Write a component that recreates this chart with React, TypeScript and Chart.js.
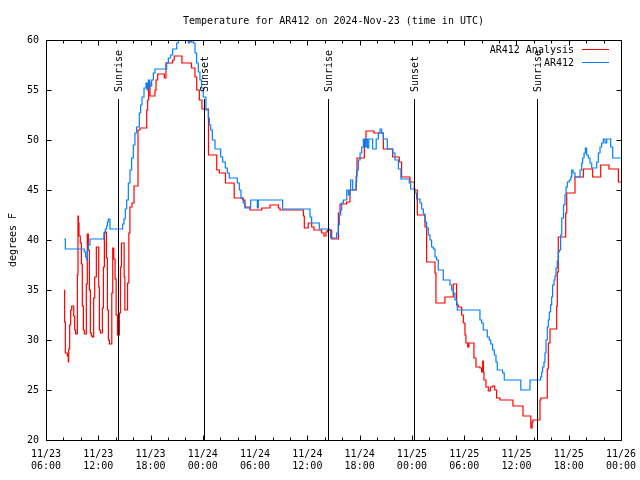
import React, { useEffect, useRef } from 'react';
import { Chart, registerables } from 'chart.js';

Chart.register(...registerables);

const FONT_FAMILY = '"DejaVu Sans Mono", "Liberation Mono", monospace';
const FONT_SIZE = 10;

const TITLE = 'Temperature for AR412 on 2024-Nov-23 (time in UTC)';
const Y_LABEL = 'degrees F';

// hours since 2024-11-23 00:00 UTC
const X_TICK_HOURS = [6, 12, 18, 24, 30, 36, 42, 48, 54, 60, 66, 72];
const X_TICK_DATES = ['11/23', '11/23', '11/23', '11/24', '11/24', '11/24', '11/24', '11/25', '11/25', '11/25', '11/25', '11/26'];
const X_TICK_TIMES = ['06:00', '12:00', '18:00', '00:00', '06:00', '12:00', '18:00', '00:00', '06:00', '12:00', '18:00', '00:00'];
const X_MIN = 6;
const X_MAX = 72;
const Y_MIN = 20;
const Y_MAX = 60;
const Y_STEP = 5;

const SUN_EVENT_HOURS = [14.3, 24.14, 38.4, 48.28, 62.39];
const SUN_EVENT_LABELS = ['Sunrise', 'Sunset', 'Sunrise', 'Sunset', 'Sunrise'];

const SERIES_LABELS = ['AR412 Analysis', 'AR412'];
const SERIES_COLORS = ['#ff0000', '#0080ff'];

const ANALYSIS_HOURS = [
  8.10, 8.14, 8.22, 8.45, 8.56, 8.60, 8.72, 8.83, 8.95, 9.18,
  9.29, 9.40, 9.60, 9.67, 9.72, 9.79, 9.94, 10.06, 10.17, 10.29,
  10.40, 10.63, 10.74, 10.86, 10.98, 11.09, 11.21, 11.32, 11.47, 11.59,
  11.78, 12.05, 12.13, 12.24, 12.47, 12.59, 12.70, 12.93, 13.05, 13.16,
  13.28, 13.55, 13.66, 13.78, 13.93, 14.05, 14.20, 14.43, 14.55, 14.66,
  14.97, 15.05, 15.36, 15.51, 15.63, 15.87, 16.10, 16.56, 16.79, 17.56,
  17.67, 17.78, 17.94, 18.51, 18.63, 18.82, 19.58, 19.77, 20.54, 20.73,
  21.60, 22.70, 23.10, 23.30, 23.60, 23.90, 24.65, 25.60, 25.90, 26.60,
  27.60, 28.58, 28.84, 29.42, 30.76, 31.71, 32.67, 32.86, 35.55, 35.65,
  36.10, 36.50, 36.76, 37.64, 37.91, 38.14, 38.29, 38.79, 39.56, 39.75,
  40.51, 40.89, 41.60, 41.70, 42.54, 42.73, 43.65, 44.72, 45.79, 46.55,
  46.82, 47.78, 48.28, 48.62, 49.50, 49.69, 50.65, 50.76, 51.79, 52.75,
  53.13, 53.32, 53.71, 53.90, 54.09, 54.20, 54.40, 54.55, 55.12, 55.35,
  55.81, 56.00, 56.12, 56.20, 56.27, 56.50, 56.77, 57.00, 57.27, 57.50,
  57.72, 58.11, 59.60, 60.75, 61.65, 61.80, 61.90, 62.70, 62.80, 63.54,
  63.66, 63.85, 64.62, 64.69, 64.80, 65.65, 65.77, 66.72, 67.68, 68.75,
  69.67, 70.62, 71.70, 72.00,
];
const ANALYSIS_TEMPS = [
  35.0, 31.8, 28.7, 28.4, 27.8, 29.1, 31.5, 33.0, 33.4, 32.4,
  31.0, 30.6, 36.5, 42.4, 41.7, 40.4, 39.7, 37.6, 33.4, 31.0,
  30.6, 35.6, 40.6, 39.0, 35.0, 30.7, 30.4, 30.3, 34.2, 36.3,
  39.3, 35.3, 31.0, 30.7, 33.2, 37.3, 40.8, 38.2, 33.0, 30.0,
  29.6, 34.7, 39.2, 38.1, 36.1, 32.5, 30.5, 32.7, 37.3, 39.7,
  36.3, 33.0, 35.7, 40.7, 43.3, 43.7, 45.4, 51.0, 51.2, 53.0,
  54.0, 55.8, 54.4, 55.0, 56.0, 56.6, 56.2, 57.7, 58.0, 58.4,
  57.7, 57.2, 56.3, 55.0, 54.0, 53.1, 48.5, 47.0, 46.7, 45.7,
  44.2, 44.0, 43.3, 43.0, 43.2, 43.5, 43.2, 43.0, 42.4, 41.2,
  41.7, 41.3, 41.0, 40.7, 40.4, 40.8, 41.0, 40.1, 42.7, 43.6,
  43.8, 45.0, 46.4, 48.2, 50.0, 50.9, 50.7, 49.1, 48.3, 47.8,
  46.3, 45.8, 45.0, 42.5, 41.3, 37.8, 36.7, 33.7, 34.3, 35.6,
  33.5, 33.3, 32.5, 31.7, 30.5, 29.7, 29.3, 29.7, 28.2, 27.3,
  27.2, 26.8, 27.9, 26.8, 26.0, 25.3, 24.9, 25.3, 25.4, 25.0,
  24.2, 24.0, 23.4, 22.4, 21.2, 21.8, 22.0, 24.0, 24.2, 27.1,
  29.7, 31.1, 33.4, 36.8, 40.3, 42.7, 44.7, 46.3, 47.1, 46.3,
  47.5, 47.1, 45.8, 45.8,
];

const OBS_HOURS = [
  8.10, 8.22, 10.40, 10.55, 10.67, 10.75, 10.86, 11.05, 12.65, 12.81,
  12.96, 13.05, 13.15, 13.34, 14.80, 14.95, 15.10, 15.26, 15.45, 15.64,
  15.83, 16.02, 16.21, 16.40, 16.71, 16.86, 17.02, 17.25, 17.48, 17.60,
  17.74, 17.90, 18.13, 18.32, 18.51, 19.85, 20.04, 20.31, 20.54, 21.00,
  21.19, 21.57, 22.10, 22.33, 22.45, 22.60, 22.72, 22.91, 23.10, 23.29,
  23.48, 23.67, 23.86, 24.05, 24.36, 24.63, 24.75, 24.90, 25.09, 25.40,
  26.05, 26.28, 26.58, 26.81, 27.04, 27.96, 28.19, 28.38, 28.65, 28.84,
  29.49, 30.26, 30.37, 33.16, 36.30, 36.49, 37.37, 38.52, 38.67, 39.36,
  39.55, 39.67, 39.83, 39.94, 40.13, 40.52, 40.71, 40.90, 40.97, 41.20,
  41.59, 41.66, 41.85, 42.05, 42.24, 42.43, 42.62, 42.75, 42.90, 43.05,
  43.50, 43.90, 44.15, 44.34, 44.53, 44.72, 45.18, 45.80, 46.06, 46.45,
  46.74, 47.70, 47.85, 48.35, 48.54, 48.93, 49.12, 49.31, 49.50, 49.69,
  49.88, 50.07, 50.26, 50.46, 50.65, 50.84, 51.03, 51.60, 52.37, 52.56,
  52.75, 52.94, 53.13, 53.21, 55.81, 56.00, 56.19, 56.65, 56.88, 57.05,
  57.26, 57.46, 57.65, 57.80, 58.41, 58.60, 60.50, 61.55, 62.77, 62.89,
  63.00, 63.16, 63.27, 63.39, 63.54, 63.66, 63.77, 63.92, 64.04, 64.15,
  64.31, 64.42, 64.54, 64.69, 64.80, 64.92, 65.07, 65.20, 65.40, 65.57,
  65.69, 65.84, 66.07, 66.23, 66.34, 66.50, 66.72, 67.30, 67.49, 67.60,
  67.76, 67.91, 68.06, 68.25, 68.44, 68.64, 69.21, 69.40, 69.59, 69.78,
  69.97, 70.17, 70.36, 70.82, 71.05, 72.00,
];
const OBS_TEMPS = [
  40.1, 39.1, 38.8, 38.3, 38.0, 39.0, 39.5, 40.1, 40.7, 41.1,
  41.4, 41.8, 42.1, 41.1, 41.6, 42.1, 43.1, 44.0, 45.7, 47.0,
  48.2, 49.5, 50.7, 51.3, 52.7, 53.5, 54.3, 55.2, 55.7, 55.0,
  56.0, 55.4, 56.0, 56.7, 57.1, 57.7, 58.2, 58.5, 59.1, 59.7,
  60.2, 60.5, 60.3, 59.7, 60.4, 59.8, 60.3, 59.7, 58.7, 57.7,
  56.8, 56.0, 55.2, 54.3, 53.0, 52.2, 51.5, 51.0, 50.0, 49.1,
  48.3, 47.8, 47.2, 46.7, 46.2, 45.7, 45.0, 44.2, 43.7, 43.2,
  44.0, 43.2, 44.0, 43.1, 42.3, 41.7, 41.1, 41.0, 40.2, 40.7,
  41.5, 42.5, 43.0, 43.7, 44.0, 45.0, 44.5, 45.0, 46.0, 45.0,
  45.8, 47.0, 48.0, 48.7, 49.3, 50.1, 49.3, 50.1, 49.2, 50.1,
  49.1, 50.1, 50.7, 51.1, 50.7, 50.1, 49.1, 48.7, 48.0, 47.1,
  46.1, 45.7, 45.1, 44.7, 44.1, 43.7, 43.1, 42.6, 41.8, 41.2,
  40.5, 40.0, 39.3, 39.1, 38.3, 38.0, 37.0, 36.0, 35.5, 35.0,
  34.7, 34.0, 33.7, 33.0, 32.0, 31.7, 31.0, 30.3, 30.0, 29.6,
  29.0, 28.5, 27.8, 27.0, 26.7, 26.0, 25.0, 26.0, 26.3, 26.8,
  27.3, 27.8, 28.7, 30.0, 31.3, 32.0, 32.8, 33.5, 34.3, 35.5,
  36.0, 36.4, 37.2, 37.9, 38.8, 39.0, 40.5, 42.2, 43.5, 44.5,
  45.3, 45.8, 46.0, 46.3, 47.0, 46.7, 46.3, 47.0, 47.7, 48.2,
  48.7, 49.2, 48.5, 48.2, 47.7, 47.2, 47.8, 48.7, 49.3, 49.7,
  50.1, 49.7, 50.1, 49.3, 48.2, 48.2,
];

const toPoints = (xs: number[], ys: number[]) => xs.map((x, i) => ({ x, y: ys[i] }));

const fontStr = `${FONT_SIZE}px ${FONT_FAMILY}`;

const overlayPlugin = {
  id: 'gnuplotOverlay',
  afterDatasetsDraw(chart: any) {
    const { ctx, chartArea: a, scales } = chart;
    const xs = scales.x;
    const ys = scales.y;
    const L = Math.round(a.left) + 0.5;
    const R = Math.round(a.right) + 0.5;
    const T = Math.round(a.top) + 0.5;
    const B = Math.round(a.bottom) + 0.5;
    ctx.save();
    ctx.strokeStyle = '#000';
    ctx.fillStyle = '#000';
    ctx.lineWidth = 1;
    ctx.font = fontStr;

    // sunrise / sunset markers
    SUN_EVENT_HOURS.forEach((h, i) => {
      const x = Math.round(xs.getPixelForValue(h)) + 0.5;
      ctx.beginPath();
      ctx.moveTo(x, a.top + 59);
      ctx.lineTo(x, B);
      ctx.stroke();
      ctx.save();
      ctx.translate(x + 1, a.top + 52);
      ctx.rotate(-Math.PI / 2);
      ctx.textAlign = 'left';
      ctx.textBaseline = 'middle';
      ctx.fillText(SUN_EVENT_LABELS[i], 0, 0);
      ctx.restore();
    });

    // border
    ctx.beginPath();
    ctx.rect(L, T, R - L, B - T);
    ctx.stroke();

    // x ticks (inward, mirrored)
    ctx.beginPath();
    for (let h = X_MIN; h <= X_MAX; h += 2) {
      const x = Math.round(xs.getPixelForValue(h)) + 0.5;
      const len = h % 6 === 0 ? 5 : 3;
      ctx.moveTo(x, B);
      ctx.lineTo(x, B - len);
      ctx.moveTo(x, T);
      ctx.lineTo(x, T + len);
    }
    // y ticks
    for (let v = Y_MIN; v <= Y_MAX; v += Y_STEP) {
      const y = Math.round(ys.getPixelForValue(v)) + 0.5;
      ctx.moveTo(L, y);
      ctx.lineTo(L + 5, y);
      ctx.moveTo(R, y);
      ctx.lineTo(R - 5, y);
    }
    ctx.stroke();

    // title
    ctx.textAlign = 'center';
    ctx.textBaseline = 'middle';
    ctx.fillText(TITLE, (a.left + a.right) / 2, 21);

    // legend
    chart.data.datasets.forEach((ds: any, i: number) => {
      const y = a.top + 10 + i * 13;
      ctx.textAlign = 'right';
      ctx.fillStyle = '#000';
      ctx.fillText(ds.label, a.right - 47, y);
      ctx.strokeStyle = ds.borderColor;
      ctx.beginPath();
      ctx.moveTo(a.right - 39, Math.round(y) - 0.5);
      ctx.lineTo(a.right - 12, Math.round(y) - 0.5);
      ctx.stroke();
    });
    ctx.restore();
  },
};

export default function App() {
  const ref = useRef<HTMLCanvasElement>(null);
  useEffect(() => {
    const chart = new Chart(ref.current as HTMLCanvasElement, {
      type: 'line',
      data: {
        datasets: [
          {
            label: SERIES_LABELS[0],
            data: toPoints(ANALYSIS_HOURS, ANALYSIS_TEMPS),
            borderColor: SERIES_COLORS[0],
            backgroundColor: SERIES_COLORS[0],
            borderWidth: 1.2,
            stepped: true,
            pointRadius: 0,
            fill: false,
            order: 1,
          },
          {
            label: SERIES_LABELS[1],
            data: toPoints(OBS_HOURS, OBS_TEMPS),
            borderColor: SERIES_COLORS[1],
            backgroundColor: SERIES_COLORS[1],
            borderWidth: 1.2,
            stepped: true,
            pointRadius: 0,
            fill: false,
            order: 0,
          },
        ],
      },
      options: {
        responsive: false,
        animation: false,
        devicePixelRatio: 1,
        layout: { padding: { top: 40, right: 19, left: 0, bottom: 0 } },
        plugins: {
          legend: { display: false },
          title: { display: false },
          tooltip: { enabled: false },
        },
        scales: {
          x: {
            type: 'linear',
            min: X_MIN,
            max: X_MAX,
            grid: { display: false, drawTicks: false },
            border: { display: false },
            ticks: {
              stepSize: 6,
              autoSkip: false,
              maxRotation: 0,
              padding: 8,
              color: '#000',
              font: { family: FONT_FAMILY, size: FONT_SIZE, lineHeight: 1.2 },
              callback: (v: any) => {
                const i = X_TICK_HOURS.indexOf(Number(v));
                return i >= 0 ? [X_TICK_DATES[i], X_TICK_TIMES[i]] : '';
              },
            },
            afterFit: (s: any) => {
              s.height = 40;
              s.paddingLeft = 0;
              s.paddingRight = 0;
            },
          },
          y: {
            min: Y_MIN,
            max: Y_MAX,
            grid: { display: false, drawTicks: false },
            border: { display: false },
            ticks: {
              stepSize: Y_STEP,
              padding: 7,
              color: '#000',
              font: { family: FONT_FAMILY, size: FONT_SIZE },
            },
            title: {
              display: true,
              text: Y_LABEL,
              color: '#000',
              font: { family: FONT_FAMILY, size: FONT_SIZE, lineHeight: 1.2 },
              padding: { top: 7, bottom: 0 },
            },
            afterFit: (s: any) => {
              s.width = 46;
              s.paddingTop = 0;
              s.paddingBottom = 0;
            },
          },
        },
      },
      plugins: [overlayPlugin],
    } as any);
    return () => chart.destroy();
  }, []);
  return (
    <div style={{ position: 'fixed', left: 0, top: 0, width: 640, height: 480, background: '#fff' }}>
      <canvas ref={ref} width={640} height={480} style={{ display: 'block', width: 640, height: 480 }} />
    </div>
  );
}
